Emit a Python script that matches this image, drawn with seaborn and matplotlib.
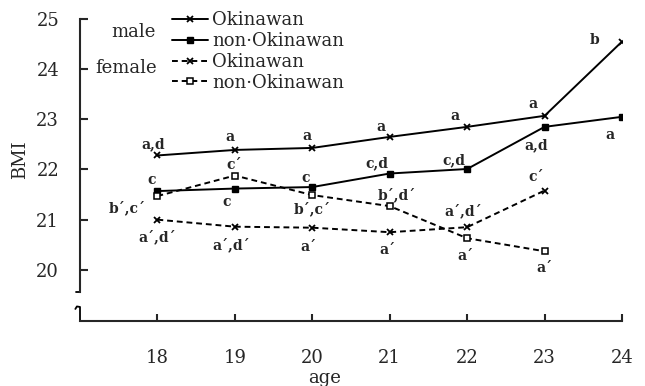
import matplotlib
matplotlib.use('Agg')
import matplotlib.pyplot as plt
import matplotlib.lines as mlines
import pandas as pd
import seaborn as sns

# BMI by age
ages = [18, 19, 20, 21, 22, 23, 24]
male_okinawan = [22.28, 22.39, 22.43, 22.65, 22.85, 23.07, 24.55]
male_non_okinawan = [21.57, 21.62, 21.65, 21.92, 22.01, 22.85, 23.05]
female_okinawan = [21.00, 20.86, 20.84, 20.75, 20.85, 21.58]
female_non_okinawan = [21.47, 21.88, 21.49, 21.27, 20.63, 20.37]

# significance letters at each point
male_okinawan_sig = ['a,d', 'a', 'a', 'a', 'a', 'a', 'b']
male_non_okinawan_sig = ['c', 'c', 'c', 'c,d', 'c,d', 'a,d', 'a']
female_okinawan_sig = ['a´,d´', 'a´,d´', 'a´', 'a´', 'a´,d´', 'c´']
female_non_okinawan_sig = ['b´,c´', 'c´', 'b´,c´', 'b´,d´', 'a´', 'a´']

series = [male_okinawan, male_non_okinawan, female_okinawan, female_non_okinawan]
sigs = [male_okinawan_sig, male_non_okinawan_sig, female_okinawan_sig, female_non_okinawan_sig]

# label offsets in pixels (layout only)
sig_offsets = [
    [(-4, 11), (-5, 13), (-5, 12), (-9, 10), (-12, 11), (-12, 12), (-27, 2)],
    [(-6, 11), (-8, -13), (-7, 9), (-13, 10), (-13, 9), (-8, -18), (-12, -18)],
    [(0, -17), (-4, -18), (-4, -19), (-2, -18), (-4, 16), (-8, 14)],
    [(-30, -12), (-1, 11), (0, -14), (7, 11), (-2, -18), (0, -17)],
]

# line styles per series
styles = [
    dict(marker='x', markersize=4.5, linestyle='-', markeredgewidth=1.3),
    dict(marker='s', markersize=5, linestyle='-', markeredgewidth=1.0),
    dict(marker='x', markersize=4.5, linestyle=(0, (3, 2)), markeredgewidth=1.3),
    dict(marker='s', markersize=5, linestyle=(0, (3, 2)), markerfacecolor='white',
         markeredgewidth=1.1),
]

sns.set_style('ticks')
plt.rcParams['font.family'] = ['DejaVu Serif']

fig = plt.figure(figsize=(6.45, 3.86), dpi=100)
ax = fig.add_axes([80 / 645, 1 - 321 / 386, 542 / 645, 302 / 386])

for vals, st in zip(series, styles):
    d = pd.DataFrame({'age': ages[:len(vals)], 'BMI': vals})
    sns.lineplot(data=d, x='age', y='BMI', color='black', linewidth=1.4,
                 markeredgecolor='black', ax=ax, **st)

for vals, labs, offs in zip(series, sigs, sig_offsets):
    for a, v, s, o in zip(ages, vals, labs, offs):
        ax.annotate(s, (a, v), xytext=o, textcoords='offset pixels',
                    ha='center', va='center', fontsize=10, fontweight='bold')

ax.set_xlim(17, 24)
ax.set_ylim(18.98, 25)
ax.set_xticks(ages)
ax.set_yticks([20, 21, 22, 23, 24, 25])
ax.tick_params(axis='x', direction='in', length=5, width=1.5, pad=20, labelsize=13)
ax.tick_params(axis='y', direction='in', length=6, width=1.5, pad=15, labelsize=13)

sns.despine(ax=ax)
ax.spines['left'].set_linewidth(1.5)
ax.spines['bottom'].set_linewidth(1.5)
ax.spines['left'].set_bounds(19.55, 25)

# axis break on the y axis
ax.plot([16.95, 17.0], [19.55, 19.55], color='black', lw=1.3, clip_on=False)
ax.plot([16.94, 16.96, 17.0, 17.0], [19.22, 19.27, 19.26, 18.98],
        color='black', lw=1.3, clip_on=False)

ax.set_xlabel('age', fontsize=13)
ax.set_ylabel('BMI', fontsize=13)
ax.xaxis.set_label_coords(0.452, -0.16)
ax.yaxis.set_label_coords(-0.094, 0.533)

handles = [mlines.Line2D([], [], color='black', lw=1.4, markeredgecolor='black', **st)
           for st in styles]
labels = ['Okinawan', 'non·Okinawan', 'Okinawan', 'non·Okinawan']
ax.legend(handles, labels, loc='upper left', bbox_to_anchor=(0.17, 1.025),
          frameon=False, fontsize=13, handlelength=2.0, handletextpad=0.2,
          labelspacing=0.15, borderpad=0, borderaxespad=0)

fig.text(133 / 645, 1 - 32 / 386, 'male', ha='center', va='center', fontsize=13)
fig.text(126 / 645, 1 - 68 / 386, 'female', ha='center', va='center', fontsize=13)

fig.savefig('out.png', dpi=100)
